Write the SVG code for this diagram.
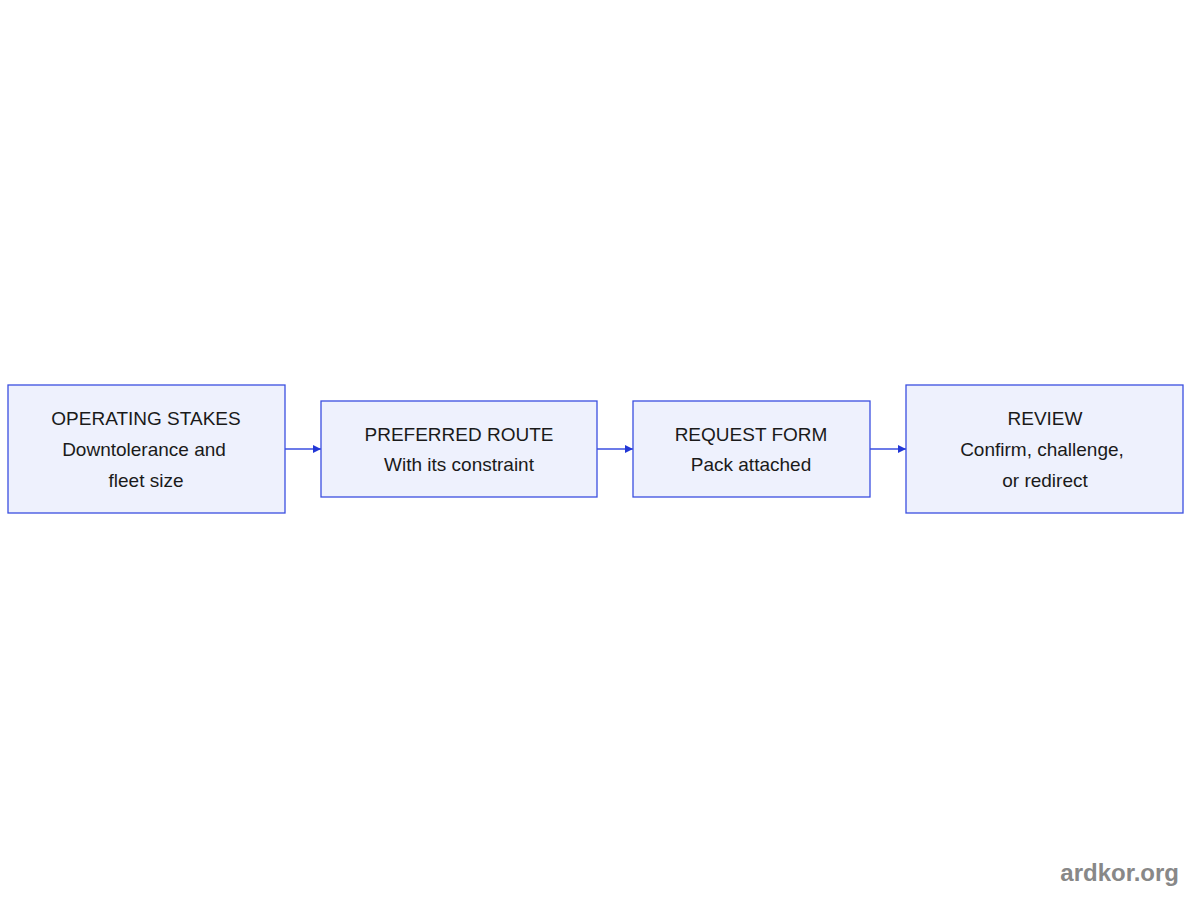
<svg xmlns="http://www.w3.org/2000/svg" width="1200" height="900" viewBox="0 0 1200 900">
<style>
.n{fill:#eef1fd;stroke:#3b4fe0;stroke-width:1.3}
.t{font-family:"Liberation Sans",Arial,sans-serif;font-size:19px;fill:#1a1a1a;text-anchor:middle}
.c{stroke:#3b4fe0;stroke-width:1.3;fill:none}
.w{font-family:"Liberation Sans",Arial,sans-serif;font-size:24px;font-weight:bold;fill:#888;text-anchor:end}
</style>
<defs><marker id="a" markerWidth="10" markerHeight="10" refX="8" refY="5" orient="auto" markerUnits="userSpaceOnUse"><path d="M0,1 L8,5 L0,9 Z" fill="#2237d6"/></marker></defs>
<rect width="1200" height="900" fill="#fff"/>
<g id="connectors">
<line class="c" x1="285" y1="449" x2="321" y2="449" marker-end="url(#a)"/>
<line class="c" x1="597" y1="449" x2="633" y2="449" marker-end="url(#a)"/>
<line class="c" x1="870" y1="449" x2="906" y2="449" marker-end="url(#a)"/>
</g>
<g id="n1"><rect class="n" x="8" y="385" width="277" height="128"/>
<text class="t" x="146" y="425">OPERATING STAKES</text><text class="t" x="144" y="456">Downtolerance and</text><text class="t" x="146" y="487">fleet size</text></g>
<g id="n2"><rect class="n" x="321" y="401" width="276" height="96"/>
<text class="t" x="459" y="441">PREFERRED ROUTE</text><text class="t" x="459" y="471">With its constraint</text></g>
<g id="n3"><rect class="n" x="633" y="401" width="237" height="96"/>
<text class="t" x="751" y="441">REQUEST FORM</text><text class="t" x="751" y="471">Pack attached</text></g>
<g id="n4"><rect class="n" x="906" y="385" width="277" height="128"/>
<text class="t" x="1045" y="425">REVIEW</text><text class="t" x="1042" y="456">Confirm, challenge,</text><text class="t" x="1045" y="487">or redirect</text></g>
<text class="w" x="1179" y="881">ardkor.org</text>
</svg>
